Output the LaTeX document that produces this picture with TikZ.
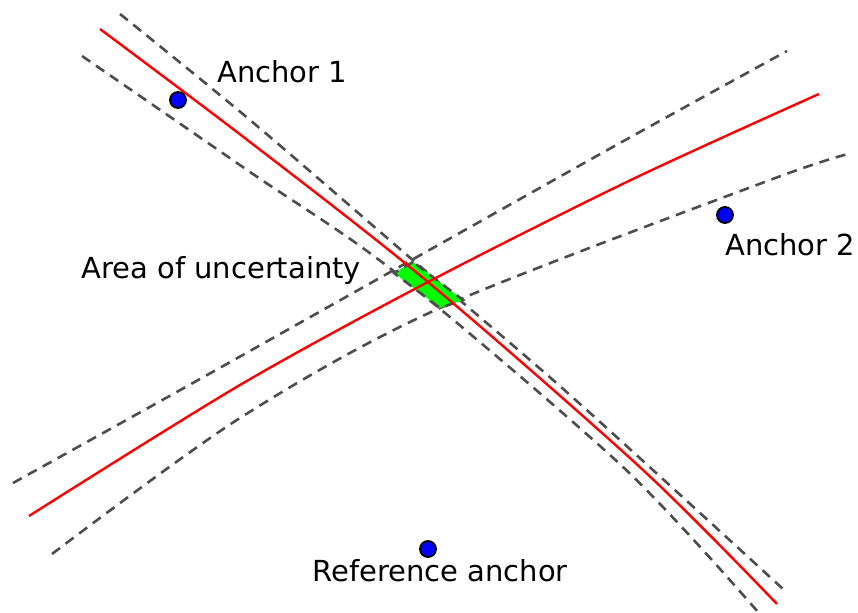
\documentclass[tikz,border=0pt]{standalone}
\usepackage{fontspec}
\setmainfont{DejaVu Sans}
\definecolor{boundgray}{HTML}{4D4D4D}
\definecolor{areagreen}{HTML}{00FF00}
\begin{document}
\begin{tikzpicture}[x=0.5pt, y=-0.5pt,
    bound/.style={boundgray, line width=1.3pt, dash pattern=on 5pt off 3.5pt},
    hyper/.style={red, line width=1.2pt},
    anchorpt/.style={circle, draw=black, fill=blue, line width=0.9pt, minimum size=8pt, inner sep=0pt},
    lbl/.style={anchor=base west, inner sep=0pt, font=\fontsize{14.5}{17}\selectfont}]
    \useasboundingbox (0,0) rectangle (858,613);

    % uncertainty bounds
    \draw[bound] plot[smooth] coordinates {(120,14) (250,120) (415,262) (570,395) (783,589)};
    \draw[bound] plot[smooth] coordinates {(82,56) (250,172) (396,273) (623,467) (758,612)};
    \draw[bound] plot[smooth] coordinates {(13,483) (200,379) (433,248) (620,143) (787,51)};
    \draw[bound] plot[smooth] coordinates {(52,554) (240,418) (440,308) (770,180) (852,153)};

    % area of uncertainty
    \draw[bound, fill=areagreen] (413,262) -- (394,273) -- (440,308) -- (463,300) -- cycle;

    % hyperbolas
    \draw[hyper] plot[smooth] coordinates {(100,29) (250,142) (428,282) (643,470) (777,604)};
    \draw[hyper] plot[smooth] coordinates {(29,516) (240,385) (428,282) (633,179) (819,94)};

    % anchors
    \node[anchorpt] (anc1) at (178,100) {};
    \node[anchorpt] (anc2) at (725,215) {};
    \node[anchorpt] (ancref) at (428,549) {};

    \node[lbl] (lanc1) at (217,83) {Anchor 1};
    \node[lbl] (lanc2) at (725,256) {Anchor 2};
    \node[lbl] (lref) at (312,582) {Reference anchor};
    \node[lbl] (larea) at (81,279) {Area of uncertainty};
\end{tikzpicture}
\end{document}
